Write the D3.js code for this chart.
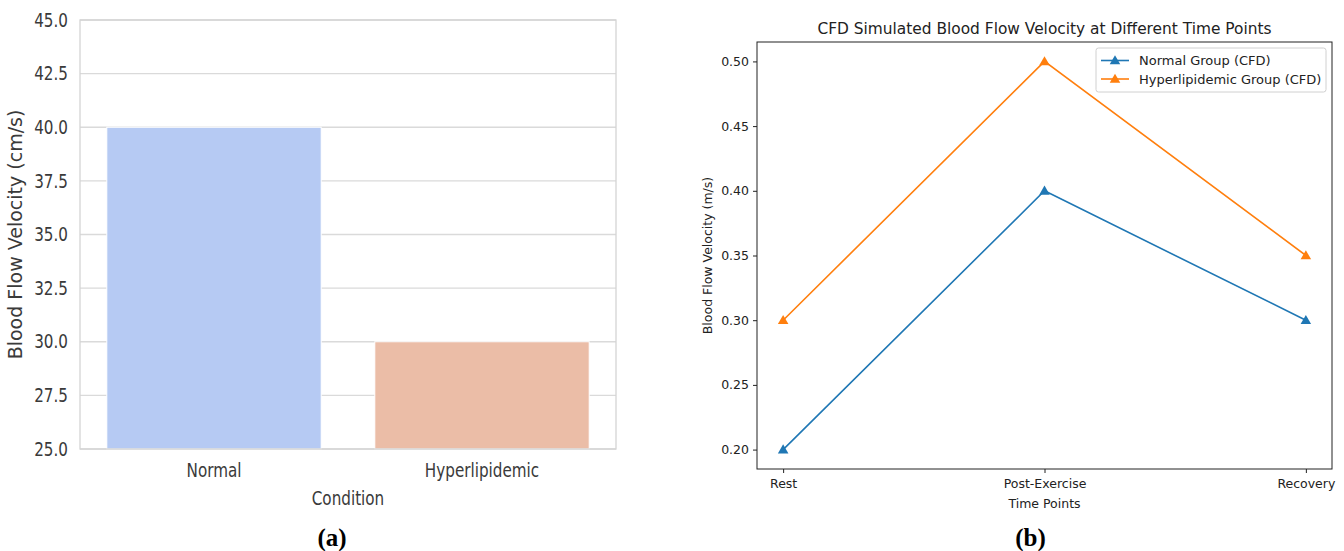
<!DOCTYPE html>
<html>
<head>
<meta charset="utf-8">
<script src="https://cdn.jsdelivr.net/npm/d3@7"></script>
<style>
  html, body { margin: 0; padding: 0; background: #fff; }
  svg { display: block; font-family: "DejaVu Sans", sans-serif; }
  .caption { font-family: "Liberation Serif", "Times New Roman", serif; font-weight: bold; }
</style>
</head>
<body>
<svg id="fig" width="1344" height="551"></svg>
<script>
// ---- Panel (a): mean velocity by condition ----
const conditions = ["Normal", "Hyperlipidemic"];
const velocityCms = [40.0, 30.0];
const barColors = ["#b6caf3", "#ebbda7"];
const yTicksA = [25.0, 27.5, 30.0, 32.5, 35.0, 37.5, 40.0, 42.5, 45.0];

// ---- Panel (b): CFD velocity over time ----
const timePoints = ["Rest", "Post-Exercise", "Recovery"];
const normalCfd = [0.20, 0.40, 0.30];
const hyperCfd = [0.30, 0.50, 0.35];
const seriesNames = ["Normal Group (CFD)", "Hyperlipidemic Group (CFD)"];
const seriesColors = ["#1f77b4", "#ff7f0e"];
const yTicksB = [0.20, 0.25, 0.30, 0.35, 0.40, 0.45, 0.50];

const svg = d3.select("#fig");

// ================= Panel (a) =================
const A = { left: 80, right: 616, top: 20, bottom: 449 };
const gA = svg.append("g");
const xA = d3.scaleBand().domain(conditions).range([A.left, A.right]).paddingInner(0.2).paddingOuter(0.1);
const yA = d3.scaleLinear().domain([25, 45]).range([A.bottom, A.top]);
const condText = "#3a3a3a";
const squeeze = 0.8;

// horizontal grid
gA.append("g").selectAll("line").data(yTicksA).join("line")
  .attr("x1", A.left).attr("x2", A.right)
  .attr("y1", d => yA(d)).attr("y2", d => yA(d))
  .attr("stroke", "#dadada").attr("stroke-width", 1.3);

// bars
gA.append("g").selectAll("rect").data(conditions).join("rect")
  .attr("x", d => xA(d))
  .attr("width", xA.bandwidth())
  .attr("y", (d, i) => yA(velocityCms[i]))
  .attr("height", (d, i) => yA(25) - yA(velocityCms[i]))
  .attr("fill", (d, i) => barColors[i])
  .attr("stroke", "#ffffff").attr("stroke-width", 1);

// frame
gA.append("rect")
  .attr("x", A.left).attr("y", A.top)
  .attr("width", A.right - A.left).attr("height", A.bottom - A.top)
  .attr("fill", "none").attr("stroke", "#d4d4d4").attr("stroke-width", 1.3);

// y tick labels (narrow glyphs)
gA.append("g").selectAll("text").data(yTicksA).join("text")
  .attr("transform", d => `translate(68,${yA(d)}) scale(${squeeze},1)`)
  .attr("text-anchor", "end").attr("dy", "0.35em")
  .attr("font-size", 19).attr("fill", condText)
  .text(d => d3.format(".1f")(d));

// x tick labels
gA.append("g").selectAll("text").data(conditions).join("text")
  .attr("transform", d => `translate(${xA(d) + xA.bandwidth() / 2},477) scale(${squeeze},1)`)
  .attr("text-anchor", "middle")
  .attr("font-size", 19).attr("fill", condText)
  .text(d => d);

// axis titles
gA.append("text")
  .attr("transform", `translate(${(A.left + A.right) / 2},505) scale(${squeeze},1)`)
  .attr("text-anchor", "middle").attr("font-size", 19).attr("fill", condText)
  .text("Condition");
gA.append("text")
  .attr("transform", `translate(22,${(A.top + A.bottom) / 2}) rotate(-90)`)
  .attr("text-anchor", "middle").attr("font-size", 19).attr("fill", condText)
  .text("Blood Flow Velocity (cm/s)");

// ================= Panel (b) =================
const B = { left: 757, right: 1332, top: 42, bottom: 469 };
const gB = svg.append("g");
const xB = d3.scaleLinear().domain([-0.1, 2.1]).range([B.left, B.right]);
const yB = d3.scaleLinear().domain([0.185, 0.515]).range([B.bottom, B.top]);
const ink = "#222";

gB.append("text")
  .attr("x", (B.left + B.right) / 2).attr("y", 34)
  .attr("text-anchor", "middle").attr("font-size", 15.4).attr("fill", ink)
  .text("CFD Simulated Blood Flow Velocity at Different Time Points");

// axes
const yAxisB = d3.axisLeft(yB).tickValues(yTicksB).tickFormat(d3.format(".2f")).tickSize(4).tickPadding(4);
const xAxisB = d3.axisBottom(xB).tickValues([0, 1, 2]).tickFormat(i => timePoints[i]).tickSize(4).tickPadding(6);
const styleAxis = g => g
  .attr("font-family", "DejaVu Sans").attr("font-size", 12.5)
  .call(a => a.select(".domain").remove())
  .call(a => a.selectAll("line").attr("stroke", ink))
  .call(a => a.selectAll("text").attr("fill", ink));
gB.append("g").attr("transform", `translate(${B.left},0)`).call(yAxisB).call(styleAxis);
gB.append("g").attr("transform", `translate(0,${B.bottom})`).call(xAxisB).call(styleAxis);

gB.append("text")
  .attr("x", (B.left + B.right) / 2).attr("y", 508)
  .attr("text-anchor", "middle").attr("font-size", 12.5).attr("fill", ink)
  .text("Time Points");
gB.append("text")
  .attr("transform", `translate(712,${(B.top + B.bottom) / 2}) rotate(-90)`)
  .attr("text-anchor", "middle").attr("font-size", 12.5).attr("fill", ink)
  .text("Blood Flow Velocity (m/s)");

// series
const tri = d3.symbol().type(d3.symbolTriangle).size(48);
const seriesData = [normalCfd, hyperCfd];
const line = d3.line().x((d, i) => xB(i)).y(d => yB(d));
seriesData.forEach((vals, s) => {
  gB.append("path").datum(vals)
    .attr("d", line).attr("fill", "none")
    .attr("stroke", seriesColors[s]).attr("stroke-width", 1.6);
  gB.append("g").selectAll("path").data(vals).join("path")
    .attr("d", tri)
    .attr("transform", (d, i) => `translate(${xB(i)},${yB(d) + 0.8})`)
    .attr("fill", seriesColors[s]);
});

// frame
gB.append("rect")
  .attr("x", B.left).attr("y", B.top)
  .attr("width", B.right - B.left).attr("height", B.bottom - B.top)
  .attr("fill", "none").attr("stroke", ink).attr("stroke-width", 1);

// legend
const lg = gB.append("g").attr("transform", `translate(${B.right - 236},48)`);
lg.append("rect").attr("width", 230).attr("height", 44).attr("rx", 2.5)
  .attr("fill", "#fff").attr("fill-opacity", 0.8).attr("stroke", "#d0d0d0");
seriesNames.forEach((name, s) => {
  const yy = 12.5 + s * 18.5;
  lg.append("line").attr("x1", 5).attr("x2", 33).attr("y1", yy).attr("y2", yy)
    .attr("stroke", seriesColors[s]).attr("stroke-width", 1.6);
  lg.append("path").attr("d", tri).attr("transform", `translate(19,${yy + 0.8})`).attr("fill", seriesColors[s]);
  lg.append("text").attr("x", 43).attr("y", yy).attr("dy", "0.35em")
    .attr("font-size", 13).attr("fill", ink).text(name);
});

// panel captions
svg.append("text").attr("class", "caption")
  .attr("x", (A.left + A.right) / 2 - 16).attr("y", 546)
  .attr("text-anchor", "middle").attr("font-size", 25).attr("fill", "#000").text("(a)");
svg.append("text").attr("class", "caption")
  .attr("x", (B.left + B.right) / 2 - 14).attr("y", 546)
  .attr("text-anchor", "middle").attr("font-size", 25).attr("fill", "#000").text("(b)");
</script>
</body>
</html>
